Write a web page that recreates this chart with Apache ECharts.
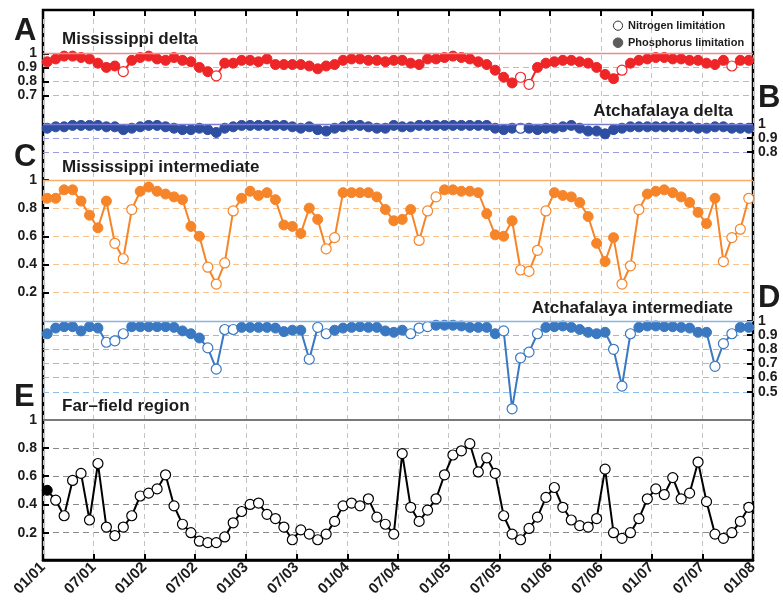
<!DOCTYPE html>
<html>
<head>
<meta charset="utf-8">
<script src="https://cdn.jsdelivr.net/npm/echarts@6/dist/echarts.min.js"></script>
<style>
  html, body { margin: 0; padding: 0; background: #fff; }
  #chart { width: 783px; height: 601px; }
</style>
</head>
<body>
<div id="chart"></div>
<script>
// Monthly nutrient-limitation index, Jan 2001 – Dec 2007 (values plotted mid-month)
const tickLabels = ['01/01','07/01','01/02','07/02','01/03','07/03','01/04','07/04',
                    '01/05','07/05','01/06','07/06','01/07','07/07','01/08'];

const missDelta = [
  0.94,0.96,0.98,0.98,0.97,0.96,0.93,0.90,0.91,0.87,0.95,0.97,
  0.98,0.96,0.95,0.97,0.95,0.94,0.90,0.87,0.84,0.93,0.93,0.95,
  0.95,0.94,0.96,0.92,0.92,0.92,0.92,0.91,0.89,0.91,0.92,0.95,
  0.96,0.96,0.95,0.95,0.94,0.95,0.95,0.93,0.92,0.96,0.96,0.97,
  0.98,0.97,0.96,0.94,0.92,0.88,0.83,0.79,0.83,0.78,0.90,0.93,
  0.94,0.95,0.95,0.94,0.93,0.90,0.85,0.82,0.88,0.93,0.95,0.96,
  0.97,0.97,0.96,0.96,0.95,0.95,0.93,0.92,0.95,0.91,0.95,0.95
];
const missDeltaLim = ['PPPPPPPPPNPP','PPPPPPPPNPPP','PPPPPPPPPPPP','PPPPPPPPPPPP',
                      'PPPPPPPPNNPP','PPPPPPPPNPPP','PPPPPPPPPNPP'];

const atchDelta = [
  0.97,0.98,0.98,0.99,0.99,0.99,0.99,0.98,0.98,0.96,0.97,0.98,
  0.99,0.99,0.98,0.97,0.96,0.96,0.97,0.96,0.94,0.97,0.98,0.99,
  0.99,0.99,0.99,0.99,0.99,0.98,0.97,0.98,0.96,0.95,0.97,0.98,
  0.99,0.99,0.98,0.97,0.97,0.99,0.98,0.98,0.99,0.99,0.99,0.99,
  0.99,0.99,0.99,0.99,0.99,0.97,0.96,0.97,0.97,0.97,0.96,0.97,
  0.97,0.98,0.99,0.97,0.95,0.95,0.93,0.96,0.97,0.98,0.98,0.98,
  0.98,0.98,0.98,0.98,0.98,0.97,0.97,0.98,0.98,0.97,0.97,0.97
];
const atchDeltaLim = ['PPPPPPPPPPPP','PPPPPPPPPPPP','PPPPPPPPPPPP','PPPPPPPPPPPP',
                      'PPPPPPPPNPPP','PPPPPPPPPPPP','PPPPPPPPPPPP'];

const missInter = [
  0.87,0.87,0.93,0.93,0.85,0.75,0.66,0.85,0.55,0.44,0.79,0.92,
  0.95,0.92,0.90,0.88,0.86,0.67,0.60,0.38,0.26,0.41,0.78,0.87,
  0.92,0.89,0.91,0.86,0.68,0.67,0.62,0.80,0.72,0.51,0.59,0.91,
  0.91,0.91,0.91,0.88,0.79,0.71,0.72,0.79,0.57,0.78,0.88,0.93,
  0.93,0.92,0.92,0.91,0.76,0.61,0.60,0.71,0.36,0.35,0.50,0.78,
  0.91,0.89,0.88,0.84,0.74,0.55,0.42,0.59,0.26,0.39,0.79,0.90,
  0.92,0.93,0.91,0.88,0.84,0.77,0.69,0.87,0.42,0.59,0.65,0.87
];
const missInterLim = ['PPPPPPPPNNNP','PPPPPPPNNNNP','PPPPPPPPPNNP','PPPPPPPPNNNP',
                      'PPPPPPPPNNNN','PPPPPPPPNNNP','PPPPPPPPNNNN'];

const atchInter = [
  0.91,0.95,0.96,0.96,0.93,0.96,0.95,0.85,0.86,0.91,0.96,0.96,
  0.96,0.96,0.96,0.955,0.93,0.91,0.88,0.81,0.66,0.94,0.94,0.955,
  0.955,0.955,0.955,0.95,0.925,0.935,0.935,0.73,0.955,0.91,0.935,0.95,
  0.955,0.96,0.955,0.955,0.93,0.92,0.935,0.91,0.95,0.96,0.97,0.97,
  0.97,0.965,0.955,0.955,0.955,0.91,0.93,0.38,0.74,0.78,0.91,0.955,
  0.96,0.965,0.955,0.94,0.92,0.91,0.92,0.80,0.54,0.91,0.955,0.965,
  0.965,0.96,0.96,0.955,0.95,0.92,0.92,0.68,0.84,0.91,0.955,0.955
];
const atchInterLim = ['PPPPPPPNNNPP','PPPPPPPNNNNP','PPPPPPPNNNPP','PPPPPPPNNNPP',
                      'PPPPPPNNNNNP','PPPPPPPNNNPP','PPPPPPPNNNPP'];

const farField = [
  0.50,0.43,0.32,0.57,0.62,0.29,0.69,0.24,0.18,0.24,0.32,0.46,
  0.48,0.51,0.61,0.39,0.26,0.20,0.14,0.13,0.13,0.17,0.27,0.35,
  0.40,0.41,0.33,0.30,0.24,0.15,0.22,0.19,0.15,0.19,0.28,0.39,
  0.41,0.39,0.44,0.31,0.26,0.19,0.76,0.38,0.28,0.36,0.44,0.61,
  0.75,0.78,0.83,0.63,0.73,0.62,0.32,0.19,0.15,0.23,0.31,0.45,
  0.52,0.38,0.29,0.25,0.24,0.30,0.65,0.20,0.16,0.20,0.30,0.44,
  0.51,0.47,0.59,0.44,0.48,0.70,0.42,0.19,0.16,0.20,0.28,0.38
];
const farFieldLim = ['PNNNNNNNNNNN','NNNNNNNNNNNN','NNNNNNNNNNNN','NNNNNNNNNNNN',
                     'NNNNNNNNNNNN','NNNNNNNNNNNN','NNNNNNNNNNNN'];

const FONT = '"Liberation Sans", Arial, Helvetica, sans-serif';
const INK = '#1c1c1c';

const panels = [
  { name: 'Mississippi delta',        values: missDelta, lim: missDeltaLim, color: '#ee2527',
    grid: { top: 53.3, height: 42.3 }, min: 0.7, interval: 0.1, side: 'left',
    dash: '#f3a5a5', solid: '#f08a8a', clip: true },
  { name: 'Atchafalaya delta',        values: atchDelta, lim: atchDeltaLim, color: '#2e4fa1',
    grid: { top: 124, height: 28.2 },  min: 0.8, interval: 0.1, side: 'right',
    dash: '#9a9ae0', solid: '#7b7bd4', clip: true },
  { name: 'Mississippi intermediate', values: missInter, lim: missInterLim, color: '#f6852a',
    grid: { top: 180, height: 112.5 }, min: 0.2, interval: 0.2, side: 'left',
    dash: '#fbc28c', solid: '#f9ad68', clip: true },
  { name: 'Atchafalaya intermediate', values: atchInter, lim: atchInterLim, color: '#3a78c2',
    grid: { top: 321, height: 70.8 },  min: 0.5, interval: 0.1, side: 'right',
    dash: '#8dbdec', solid: '#86b5e6', clip: false },
  { name: 'Far–field region',         values: farField,  lim: farFieldLim,  color: '#000000',
    grid: { top: 419.7, height: 113 }, min: 0.2, interval: 0.2, side: 'left',
    dash: '#8a8a8a', solid: '#7a7a7a', clip: false }
];

const LEFT = 43, RIGHT = 30;
const grids = [{ left: LEFT, right: RIGHT, top: 10, bottom: 41, show: true,
                 borderColor: '#000', borderWidth: 2.5, backgroundColor: 'transparent' }];
const xAxes = [
  { gridIndex: 0, type: 'value', min: 0, max: 84, interval: 6, position: 'bottom',
    axisLine: { show: true, onZero: false, lineStyle: { color: '#000', width: 2.5 } },
    axisTick: { show: true, inside: true, length: 6, lineStyle: { color: '#000', width: 2 } },
    axisLabel: { show: true, rotate: 45, margin: 5, fontSize: 15, fontWeight: 'bold',
                 fontFamily: FONT, color: INK, showMinLabel: true, showMaxLabel: true,
                 formatter: v => tickLabels[Math.round(v / 6)] },
    splitLine: { show: true, lineStyle: { color: '#c4c4c4', type: [5, 4], width: 1 } } },
  { gridIndex: 0, type: 'value', min: 0, max: 84, interval: 6, position: 'top',
    axisLine: { show: true, onZero: false, lineStyle: { color: '#000', width: 2 } },
    axisTick: { show: true, inside: true, length: 6, lineStyle: { color: '#000', width: 2 } },
    axisLabel: { show: false }, splitLine: { show: false } }
];
const yAxes = [{ gridIndex: 0, type: 'value', min: 0, max: 1, show: false }];
const series = [];

panels.forEach((p, i) => {
  grids.push({ left: LEFT, right: RIGHT, top: p.grid.top, height: p.grid.height });
  xAxes.push({ gridIndex: i + 1, type: 'value', min: 0, max: 84, show: false,
               axisLine: { onZero: false } });
  yAxes.push({
    gridIndex: i + 1, type: 'value', min: p.min, max: 1, interval: p.interval, position: p.side,
    axisLine: { show: false, onZero: false },
    axisTick: { show: true, inside: true, length: 6, lineStyle: { color: '#000', width: 2 } },
    axisLabel: { show: true, margin: p.side === 'left' ? 6 : 5, fontSize: 14, fontWeight: 'bold',
                 fontFamily: FONT, color: INK, showMinLabel: true, showMaxLabel: true,
                 formatter: v => (v > 0.999 ? '1' : v.toFixed(1)) },
    splitLine: { show: true, lineStyle: { color: p.dash, type: [6, 4], width: 1 } }
  });
  const flags = p.lim.join('');
  const data = p.values.map((v, m) => {
    const nitrogen = flags[m] === 'N';
    return {
      value: [m + 0.5, v],
      itemStyle: nitrogen
        ? { color: '#ffffff', borderColor: p.color, borderWidth: 1.2 }
        : { color: p.color, borderColor: p.color, borderWidth: 1 }
    };
  });
  series.push({
    name: p.name, type: 'line', xAxisIndex: i + 2, yAxisIndex: i + 1,
    data, clip: p.clip, symbol: 'circle', symbolSize: 10, showAllSymbol: true,
    lineStyle: { color: p.color, width: 2 }, itemStyle: { color: p.color },
    emphasis: { disabled: true }, silent: true, z: 3,
    markLine: { silent: true, symbol: 'none', label: { show: false }, animation: false,
                lineStyle: { type: 'solid', color: p.solid, width: i === 4 ? 2 : 1.3 },
                data: [{ yAxis: 1 }] }
  });
});

function label(text, x, baseline, size, align) {
  return { type: 'text', silent: true, z: 10,
           style: { text, x, y: baseline - 0.33 * size, textAlign: align || 'left',
                    textVerticalAlign: 'middle', fill: INK,
                    font: `bold ${size}px ${FONT}` } };
}

const graphic = [
  label('A', 14, 42, 31), label('B', 758, 108.5, 31), label('C', 14, 168, 31),
  label('D', 758, 308.5, 31), label('E', 14, 408, 31),
  label('Mississippi delta', 62, 45, 17),
  label('Atchafalaya delta', 733, 116.5, 17, 'right'),
  label('Mississippi intermediate', 62, 173, 17),
  label('Atchafalaya intermediate', 733, 314, 17, 'right'),
  label('Far–field region', 62, 412.3, 17),
  { type: 'circle', silent: true, z: 10, shape: { cx: 618, cy: 25.7, r: 4.6 },
    style: { fill: '#fff', stroke: '#333', lineWidth: 1 } },
  { type: 'circle', silent: true, z: 10, shape: { cx: 618, cy: 42.7, r: 4.8 },
    style: { fill: '#5c5c5c', stroke: '#5c5c5c', lineWidth: 1 } },
  label('Nitrogen limitation', 628, 29.3, 11),
  label('Phosphorus limitation', 628, 46.3, 11)
];

const chart = echarts.init(document.getElementById('chart'), null, { renderer: 'canvas' });
chart.setOption({
  animation: false,
  backgroundColor: '#ffffff',
  grid: grids, xAxis: xAxes, yAxis: yAxes, series, graphic
});
</script>
</body>
</html>
